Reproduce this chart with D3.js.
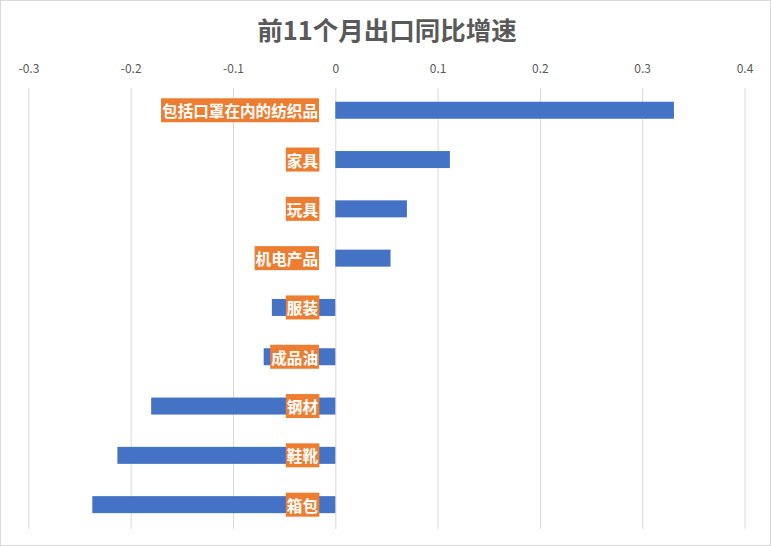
<!DOCTYPE html>
<html><head><meta charset="utf-8">
<script src="https://cdn.jsdelivr.net/npm/d3@7"></script>
<style>body{margin:0;background:#fff}svg{display:block}</style>
</head><body>
<svg id="c" width="771" height="546"></svg>
<script>
const categories = ["包括口罩在内的纺织品","家具","玩具","机电产品","服装","成品油","钢材","鞋靴","箱包"];
const values = [0.331, 0.112, 0.070, 0.054, -0.062, -0.070, -0.180, -0.213, -0.2375];
const ticks = [-0.3,-0.2,-0.1,0,0.1,0.2,0.3,0.4];
const title = "前11个月出口同比增速";

const W = 771, H = 546;
const svg = d3.select("#c");
const font = "'Noto Sans CJK SC','Noto Sans',sans-serif";
svg.append("rect").attr("x",0.5).attr("y",0.5).attr("width",W-1).attr("height",H-1)
  .attr("fill","#fff").attr("stroke","#d9d9d9");

const x = d3.scaleLinear().domain([-0.3,0.4]).range([28.4,744.5]);
const y = d3.scaleBand().domain(categories).range([85.6,529.3]).paddingInner(0.655).paddingOuter(0.3275);

svg.append("text").attr("x",387).attr("y",40).attr("text-anchor","middle")
  .attr("font-family",font).attr("font-size",25.5).attr("font-weight","bold").attr("fill","#595959").text(title);

const ax = d3.axisTop(x).tickValues(ticks).tickSize(0).tickFormat(d=> d===0?"0":String(d));
const g = svg.append("g").attr("transform","translate(0,76)").call(ax);
g.select(".domain").remove();
g.selectAll("text").attr("font-family",font).attr("font-size",12).attr("fill","#595959").attr("dy",0);

svg.append("g").selectAll("line").data(ticks).join("line")
  .attr("x1",d=>x(d)+0.5).attr("x2",d=>x(d)+0.5).attr("y1",88).attr("y2",529)
  .attr("stroke","#d9d9d9").attr("stroke-width",1);

svg.append("g").selectAll("rect").data(categories).join("rect")
  .attr("x",(d,i)=>x(Math.min(0,values[i])))
  .attr("width",(d,i)=>Math.abs(x(values[i])-x(0)))
  .attr("y",d=>y(d)).attr("height",y.bandwidth()).attr("fill","#4472C4");

const lg = svg.append("g");
categories.forEach((c,i)=>{
  const cy = y(c)+y.bandwidth()/2;
  const t = lg.append("text").attr("x",318).attr("y",cy).attr("text-anchor","end")
    .attr("dominant-baseline","central").attr("font-family",font).attr("font-size",15.6)
    .attr("font-weight","bold").attr("fill","#fff").text(c);
  const bb = t.node().getBBox();
  lg.insert("rect","text").attr("x",bb.x-1).attr("y",cy-12).attr("width",bb.width+2).attr("height",24).attr("fill","#ED7D31");
});
</script>
</body></html>
